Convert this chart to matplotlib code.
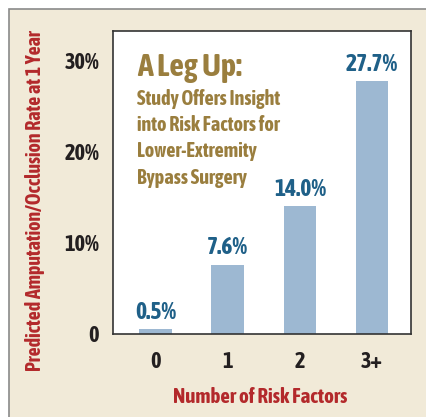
import matplotlib.pyplot as plt
from matplotlib.patches import Rectangle

# data
categories = ['0', '1', '2', '3+']
rates = [0.5, 7.6, 14.0, 27.7]
value_labels = ['0.5%', '7.6%', '14.0%', '27.7%']
ytick_vals = [0, 10, 20, 30]
ytick_labels = ['0', '10%', '20%', '30%']
title = 'A Leg Up:'
subtitle = 'Study Offers Insight\ninto Risk Factors for\nLower-Extremity\nBypass Surgery'

plt.rcParams['font.family'] = ['Asap Condensed', 'DejaVu Sans']
plt.rcParams['font.weight'] = 'bold'

cream = '#F1EAD8'
gold = '#9A7E3E'
blue_txt = '#1F6088'
bar_col = '#9DB8D2'
red = '#B3292B'
dark = '#231F20'

W, H = 427, 417
fig = plt.figure(figsize=(W / 100, H / 100), dpi=100)
fig.patch.set_facecolor('white')

# cream panel with grey frame on top/left
panel = Rectangle((9 / W, -0.1), 1.2, (H - 9) / H + 0.1,
                  transform=fig.transFigure, facecolor=cream,
                  edgecolor='#8a8a8a', lw=1.2, zorder=-5)
fig.add_artist(panel)

ax = fig.add_axes([113 / W, (H - 334) / H, 298 / W, 303 / H])
ax.set_zorder(1)
ax.set_facecolor('white')
x = range(len(categories))
bars = ax.bar(x, rates, width=0.45, color=bar_col, zorder=2)
ax.set_xlim(-0.59, 3.54)
ax.set_ylim(0, 33.2)

for b, lab in zip(bars, value_labels):
    ax.annotate(lab, (b.get_x() + b.get_width() / 2, b.get_height()),
                xytext=(0, 4), textcoords='offset points', ha='center',
                va='bottom', fontsize=17, color=blue_txt, fontweight='bold')

ax.set_xticks(list(x))
ax.set_xticklabels(categories, fontsize=16, color=dark, fontweight='bold')
ax.set_yticks(ytick_vals)
ax.set_yticklabels(ytick_labels, fontsize=16, color=dark, fontweight='bold')
ax.tick_params(length=0, pad=10)
ax.tick_params(axis='x', pad=12)
for s in ax.spines.values():
    s.set_color('#333333')
    s.set_linewidth(1.2)

ax.text(0.08, 0.878, title, transform=ax.transAxes, fontsize=23,
        color=gold, fontweight='bold', va='center', ha='left')
ax.text(0.08, 0.81, subtitle, transform=ax.transAxes, fontsize=14.5,
        color=gold, fontweight='bold', va='top', ha='left', linespacing=1.4)

fig.text(260 / W, 1 - 397 / H, 'Number of Risk Factors', fontsize=15,
         color=red, fontweight='bold', ha='center', va='center')
fig.text(35 / W, 1 - 201 / H, 'Predicted Amputation/Occlusion Rate at 1 Year',
         fontsize=14.3, color=red, fontweight='bold', ha='center',
         va='center', rotation=90)

fig.savefig('out.png', dpi=100, facecolor=fig.get_facecolor())
